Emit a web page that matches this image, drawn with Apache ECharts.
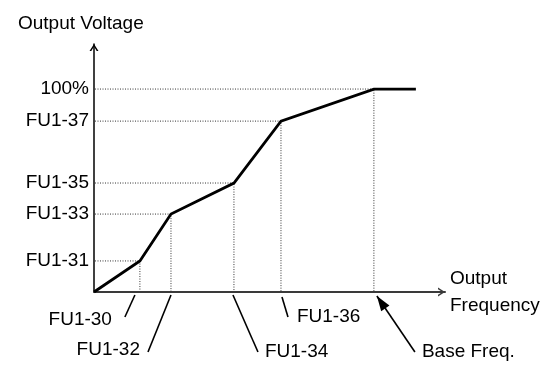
<!DOCTYPE html>
<html><head><meta charset="utf-8">
<script src="https://cdn.jsdelivr.net/npm/echarts@6/dist/echarts.min.js"></script>
<style>html,body{margin:0;padding:0;background:#fff}#c{width:548px;height:365px}</style>
</head><body><div id="c"></div>
<script>
// ---- data ----
const curveFreq = [0, 16.4, 27.5, 50, 66.8, 100, 115];      // % of base frequency
const curveVolt = [0, 15.3, 38.4, 53.7, 84.2, 100, 100];    // % of output voltage
const freqParamLabels = ['FU1-30', 'FU1-32', 'FU1-34', 'FU1-36', 'Base Freq.'];
const voltParamLabels = ['FU1-31', 'FU1-33', 'FU1-35', 'FU1-37', '100%'];
const xAxisMax = 125.4;
const yAxisMax = 122.2;

// ---- style / layout ----
const FONT = "'Liberation Sans',Arial,sans-serif";
const FS = 19;
// pixel offsets of leader lines / texts relative to each frequency point on the axis
const freqNoteLayout = [
  {line: [-5, 3, -15, 25], text: [-28, 28], align: 'right'},
  {line: [0, 3, -23, 60], text: [-31, 58], align: 'right'},
  {line: [-1, 3, 24, 60], text: [31, 60], align: 'left'},
  {line: [1, 5, 7, 25], text: [16, 25], align: 'left'},
  {line: [3, 4, 41, 60], text: [48, 60], align: 'left', arrow: true}
];

const corners = curveFreq.slice(1, 6).map((x, i) => [x, curveVolt[i + 1]]);
const curveData = curveFreq.map((x, i) => [x, curveVolt[i]]);

function renderGuide(params, api) {
  const x = api.value(0), y = api.value(1);
  const a = api.coord([0, y]), c = api.coord([x, y]), b = api.coord([x, 0]);
  return {type: 'polyline', shape: {points: [[a[0] + 1, a[1]], c, [b[0], b[1] - 1]]},
    style: {stroke: '#333', lineWidth: 1, lineDash: [1, 1.5], fill: null}};
}
function renderVoltLabel(params, api) {
  const p = api.coord([0, api.value(1)]);
  return {type: 'text', x: p[0] - 5, y: p[1],
    style: {text: voltParamLabels[params.dataIndex], fontSize: FS, fontFamily: FONT,
      fill: '#000', align: 'right', verticalAlign: 'middle'}};
}
function renderFreqNote(params, api) {
  const i = params.dataIndex;
  const p = api.coord([api.value(0), 0]);
  const L = freqNoteLayout[i];
  const x1 = p[0] + L.line[0], y1 = p[1] + L.line[1], x2 = p[0] + L.line[2], y2 = p[1] + L.line[3];
  const children = [{type: 'line', shape: {x1, y1, x2, y2}, style: {stroke: '#000', lineWidth: 1.6}}];
  if (L.arrow) {
    const dx = x1 - x2, dy = y1 - y2, len = Math.hypot(dx, dy), ux = dx / len, uy = dy / len;
    const hl = 15, hw = 5;
    const bx = x1 - ux * hl, by = y1 - uy * hl;
    children.push({type: 'polygon', shape: {points: [[x1, y1], [bx - uy * hw, by + ux * hw], [bx + uy * hw, by - ux * hw]]},
      style: {fill: '#000'}});
  }
  children.push({type: 'text', x: p[0] + L.text[0], y: p[1] + L.text[1],
    style: {text: freqParamLabels[i], fontSize: FS, fontFamily: FONT, fill: '#000',
      align: L.align, verticalAlign: 'middle'}});
  return {type: 'group', children};
}

const chevron = 'path://M0,7 L4.5,0 L9,7 L7.2,7 L4.5,2.6 L1.8,7 Z';

const chart = echarts.init(document.getElementById('c'), null, {renderer: 'canvas'});
chart.setOption({
  animation: false,
  backgroundColor: '#fff',
  title: {text: 'Output Voltage', left: 13, top: 9,
    textStyle: {fontSize: FS, fontWeight: 'normal', color: '#000', fontFamily: FONT}},
  grid: {left: 94, right: 103, top: 44, bottom: 73, outerBoundsMode: 'none'},
  xAxis: {type: 'value', min: 0, max: xAxisMax,
    name: 'Output\nFrequency', nameLocation: 'end', nameGap: 5,
    nameTextStyle: {fontSize: FS, fontFamily: FONT, color: '#000', align: 'left', verticalAlign: 'middle',
      lineHeight: 27, padding: [3, 0, 0, 0]},
    axisLine: {show: true, symbol: ['none', chevron], symbolSize: [9, 7], symbolOffset: [0, -3.5],
      lineStyle: {color: '#3a3a3a', width: 2}},
    axisTick: {show: false}, axisLabel: {show: false}, splitLine: {show: false}},
  yAxis: {type: 'value', min: 0, max: yAxisMax,
    axisLine: {show: true, symbol: ['none', chevron], symbolSize: [9, 7], symbolOffset: [0, -3.5],
      lineStyle: {color: '#000', width: 1.5}},
    axisTick: {show: false}, axisLabel: {show: false}, splitLine: {show: false}},
  series: [
    {type: 'custom', name: 'guides', data: corners, renderItem: renderGuide, z: 1, silent: true},
    {type: 'line', name: 'V/F', data: curveData, symbol: 'none', z: 3,
      lineStyle: {color: '#000', width: 2.8, join: 'miter'}},
    {type: 'custom', name: 'voltLabels', data: corners, renderItem: renderVoltLabel, z: 4, silent: true},
    {type: 'custom', name: 'freqNotes', data: corners.map(c => [c[0], 0]), renderItem: renderFreqNote, z: 4, silent: true, clip: false}
  ]
});
</script></body></html>
